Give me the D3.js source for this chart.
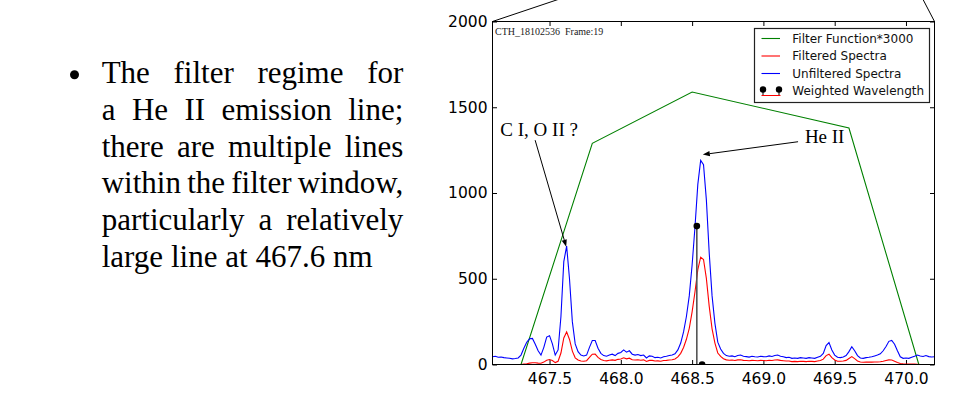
<!DOCTYPE html>
<html><head><meta charset="utf-8">
<script src="https://cdn.jsdelivr.net/npm/d3@7"></script>
<style>
html,body{margin:0;padding:0;background:#fff;}
svg{display:block;}
</style></head>
<body><svg id="c" width="979" height="394"></svg>
<script>
// ---------------- data ----------------
const wavelength = [
467.10,467.12,467.14,467.16,467.18,467.20,467.22,467.24,467.26,467.28,
467.30,467.32,467.34,467.36,467.38,467.40,467.42,467.44,467.46,467.48,
467.50,467.52,467.54,467.56,467.58,467.60,467.62,467.64,467.66,467.68,
467.70,467.72,467.74,467.76,467.78,467.80,467.82,467.84,467.86,467.88,
467.90,467.92,467.94,467.96,467.98,468.00,468.02,468.04,468.06,468.08,
468.10,468.12,468.14,468.16,468.18,468.20,468.22,468.24,468.26,468.28,
468.30,468.32,468.34,468.36,468.38,468.40,468.42,468.44,468.46,468.48,
468.50,468.52,468.54,468.56,468.58,468.60,468.62,468.64,468.66,468.68,
468.70,468.72,468.74,468.76,468.78,468.80,468.82,468.84,468.86,468.88,
468.90,468.92,468.94,468.96,468.98,469.00,469.02,469.04,469.06,469.08,
469.10,469.12,469.14,469.16,469.18,469.20,469.22,469.24,469.26,469.28,
469.30,469.32,469.34,469.36,469.38,469.40,469.42,469.44,469.46,469.48,
469.50,469.52,469.54,469.56,469.58,469.60,469.62,469.64,469.66,469.68,
469.70,469.72,469.74,469.76,469.78,469.80,469.82,469.84,469.86,469.88,
469.90,469.92,469.94,469.96,469.98,470.00,470.02,470.04,470.06,470.08,
470.10,470.12,470.14,470.16,470.18,470.20];

const unfilteredSpectra = [
45,48,42,44,40,38,36,33,35,38,
55,95,130,150,152,118,80,55,100,160,
168,120,55,85,280,600,690,500,250,120,
75,55,50,55,100,140,140,95,65,52,
48,55,60,52,65,70,85,72,80,60,
55,58,52,55,38,50,48,40,42,38,
45,48,52,55,62,85,125,190,280,400,
580,800,1050,1190,1165,960,650,400,240,130,
90,65,52,48,50,45,52,55,48,46,
43,48,45,44,48,46,45,50,47,52,
55,48,45,40,42,36,38,36,40,38,
36,40,38,36,42,48,65,110,128,85,
55,42,40,44,52,75,104,80,52,38,
36,40,42,45,50,55,62,80,105,135,
140,118,80,45,36,38,36,42,48,55,
50,47,52,46,44,45];

const filteredSpectra = [
0,0,0,0,0,0,0,0,0,0,
0,2,4,8,10,10,8,7,14,25,
29,23,11,19,67,155,190,146,78,39,
26,20,19,22,41,60,61,41,29,23,
21,25,27,24,30,32,39,33,37,28,
26,28,25,27,18,24,24,20,21,19,
23,24,26,28,32,44,65,99,147,211,
307,423,553,626,612,502,339,208,125,67,
47,34,27,25,26,23,27,28,24,23,
22,24,23,22,24,23,22,25,23,26,
27,24,22,20,20,17,18,17,19,18,
17,19,18,17,20,23,31,52,60,40,
26,19,19,20,24,35,46,34,21,15,
13,14,14,14,15,15,16,19,23,27,
26,19,12,6,4,3,3,2,2,1,
0,0,0,0,0,0];

const filterWavelength = [467.1, 467.3, 467.8, 468.5, 469.6, 470.09, 470.2];
const filterFunctionX3000 = [0, 0, 1290, 1589, 1379, 0, 0];

const weightedWavelength = [468.533, 468.570];
const weightedHeight = [807, 0];

const xDomain = [467.1, 470.2];
const yDomain = [0, 2000];
const xTicks = [467.5, 468.0, 468.5, 469.0, 469.5, 470.0];
const yTicks = [0, 500, 1000, 1500, 2000];

const legendLabels = ["Filter Function*3000", "Filtered Spectra", "Unfiltered Spectra", "Weighted Wavelength"];
const seriesColors = ["#008000", "#ff0000", "#0000ff", "#000000"];

const frameLabel = "CTH_18102536\u00a0 Frame:19";
const annLabels = ["C I, O II ?", "He II"];
const annTextX = [467.155, 469.291];
const annTextY = [1332, 1290];
const annFromX = [467.399, 469.243];
const annFromY = [1308, 1299];
const annToX = [467.617, 468.575];
const annToY = [687, 1224];

const bulletLines = [
  "The filter regime for",
  "a He II emission line;",
  "there are multiple lines",
  "within the filter window,",
  "particularly a relatively",
  "large line at 467.6 nm"
];

// ---------------- drawing ----------------
const svg = d3.select("#c");
const X0 = 492.5, X1 = 934.5, Y0 = 21.5, Y1 = 364.5;
const x = d3.scaleLinear().domain(xDomain).range([X0, X1]);
const y = d3.scaleLinear().domain(yDomain).range([Y1, Y0]);

// zoom lines from the slide (decoration)
svg.append("line").attr("x1", X0).attr("y1", Y0).attr("x2", X0 + 66.4 * 2).attr("y2", Y0 - 22.3 * 2)
  .attr("stroke", "#000").attr("stroke-width", 1);
svg.append("line").attr("x1", X1).attr("y1", Y0).attr("x2", X1 - 11.6 * 2).attr("y2", Y0 - 22.3 * 2)
  .attr("stroke", "#000").attr("stroke-width", 1);

svg.append("defs").append("clipPath").attr("id", "plotclip")
  .append("rect").attr("x", X0).attr("y", Y0).attr("width", X1 - X0).attr("height", Y1 - Y0);

// axes (inward ticks on all sides)
const tickFont = "'DejaVu Sans', 'Bitstream Vera Sans', sans-serif";
function styleAxis(g) {
  g.select(".domain").remove();
  g.selectAll(".tick line").attr("stroke", "#000").attr("stroke-width", 1);
  g.selectAll("text").attr("fill", "#000").attr("font-family", tickFont).attr("font-size", 15.5);
}
svg.append("g").attr("transform", `translate(0,${Y1})`)
  .call(d3.axisBottom(x).tickValues(xTicks).tickFormat(d3.format(".1f")).tickSizeInner(-4.5).tickSizeOuter(0).tickPadding(8.5))
  .call(styleAxis);
svg.append("g").attr("transform", `translate(0,${Y0})`)
  .call(d3.axisTop(x).tickValues(xTicks).tickFormat("").tickSizeInner(-4.5).tickSizeOuter(0))
  .call(styleAxis);
svg.append("g").attr("transform", `translate(${X0},0)`)
  .call(d3.axisLeft(y).tickValues(yTicks).tickFormat(d3.format("d")).tickSizeInner(-4.5).tickSizeOuter(0).tickPadding(5))
  .call(styleAxis);
svg.append("g").attr("transform", `translate(${X1},0)`)
  .call(d3.axisRight(y).tickValues(yTicks).tickFormat("").tickSizeInner(-4.5).tickSizeOuter(0))
  .call(styleAxis);

// series
const plot = svg.append("g").attr("clip-path", "url(#plotclip)");
const line = d3.line().x(d => x(d[0])).y(d => y(d[1]));
plot.append("path").datum(filterWavelength.map((w, i) => [w, filterFunctionX3000[i]]))
  .attr("d", line).attr("fill", "none").attr("stroke", seriesColors[0]).attr("stroke-width", 1.1);
plot.append("path").datum(wavelength.map((w, i) => [w, filteredSpectra[i]]))
  .attr("d", line).attr("fill", "none").attr("stroke", seriesColors[1]).attr("stroke-width", 1.1);
plot.append("path").datum(wavelength.map((w, i) => [w, unfilteredSpectra[i]]))
  .attr("d", line).attr("fill", "none").attr("stroke", seriesColors[2]).attr("stroke-width", 1.1);

// stems
weightedWavelength.forEach((w, i) => {
  plot.append("line").attr("x1", x(w)).attr("x2", x(w)).attr("y1", y(0)).attr("y2", y(weightedHeight[i]))
    .attr("stroke", "#555").attr("stroke-width", 1.6);
});
plot.append("line").attr("x1", x(weightedWavelength[0])).attr("x2", x(weightedWavelength[1]))
  .attr("y1", y(0)).attr("y2", y(0)).attr("stroke", "#ff0000").attr("stroke-width", 1);
weightedWavelength.forEach((w, i) => {
  plot.append("circle").attr("cx", x(w)).attr("cy", y(weightedHeight[i])).attr("r", 3.3).attr("fill", "#000");
});

// frame
svg.append("rect").attr("x", X0).attr("y", Y0).attr("width", X1 - X0).attr("height", Y1 - Y0)
  .attr("fill", "none").attr("stroke", "#000").attr("stroke-width", 1);

// frame label
svg.append("text").attr("x", X0 + 2.5).attr("y", Y0 + 13.5)
  .attr("font-family", "'Liberation Serif','Times New Roman',serif").attr("font-size", 10)
  .attr("fill", "#222").text(frameLabel);

// legend
const lg = svg.append("g");
const LX = 754.5, LY = 28.5, LW = 175, LH = 74;
lg.append("rect").attr("x", LX).attr("y", LY).attr("width", LW).attr("height", LH)
  .attr("fill", "#fff").attr("stroke", "#222").attr("stroke-width", 1.2);
legendLabels.forEach((lab, i) => {
  const cy = 38.5 + i * 17.5;
  if (i < 3) {
    lg.append("line").attr("x1", 761.5).attr("x2", 780).attr("y1", cy).attr("y2", cy)
      .attr("stroke", seriesColors[i]).attr("stroke-width", 1.1);
  } else {
    [763, 779].forEach(px => {
      lg.append("line").attr("x1", px).attr("x2", px).attr("y1", cy - 1.5).attr("y2", cy + 4.5)
        .attr("stroke", "#000").attr("stroke-width", 1);
      lg.append("circle").attr("cx", px).attr("cy", cy - 1.5).attr("r", 3.2).attr("fill", "#000");
    });
    lg.append("line").attr("x1", 761.5).attr("x2", 780.5).attr("y1", cy + 4.5).attr("y2", cy + 4.5)
      .attr("stroke", "#ff0000").attr("stroke-width", 1);
  }
  lg.append("text").attr("x", 792.3).attr("y", cy + 4.3)
    .attr("font-family", tickFont).attr("font-size", 12).attr("fill", "#111").text(lab);
});

// annotations
const ag = svg.append("g");
annLabels.forEach((lab, i) => {
  ag.append("text").attr("x", x(annTextX[i])).attr("y", y(annTextY[i]))
    .attr("font-family", "'Liberation Serif','Times New Roman',serif").attr("font-size", 19)
    .attr("fill", "#000").text(lab);
  const x1 = x(annFromX[i]), y1 = y(annFromY[i]), x2 = x(annToX[i]), y2 = y(annToY[i]);
  const ang = Math.atan2(y2 - y1, x2 - x1);
  const L = 7, Wd = 2.6;
  const bx = x2 - L * Math.cos(ang), by = y2 - L * Math.sin(ang);
  ag.append("line").attr("x1", x1).attr("y1", y1).attr("x2", bx).attr("y2", by)
    .attr("stroke", "#000").attr("stroke-width", 1);
  const p = [[x2, y2],
    [bx + Wd * Math.sin(ang), by - Wd * Math.cos(ang)],
    [bx - Wd * Math.sin(ang), by + Wd * Math.cos(ang)]];
  ag.append("polygon").attr("points", p.map(q => q.join(",")).join(" ")).attr("fill", "#000");
});

// bullet text (justified)
const textLeft = 101.7, textRight = 403.3, firstBase = 83.3, lineGap = 36.7;
svg.append("circle").attr("cx", 74.5).attr("cy", 74.7).attr("r", 4.5).attr("fill", "#000");
const tg = svg.append("g").attr("font-family", "'Liberation Serif','Times New Roman',serif")
  .attr("font-size", 31).attr("fill", "#000");
bulletLines.forEach((ln, i) => {
  const words = ln.split(" ");
  const yb = firstBase + i * lineGap;
  const els = words.map(w => tg.append("text").attr("y", yb).text(w));
  const widths = els.map(e => e.node().getComputedTextLength());
  const total = d3.sum(widths);
  const last = i === bulletLines.length - 1;
  const gap = last ? 7.8 : (textRight - textLeft - total) / (words.length - 1);
  let xx = textLeft;
  els.forEach((e, j) => { e.attr("x", xx); xx += widths[j] + gap; });
});
</script>
</body></html>
